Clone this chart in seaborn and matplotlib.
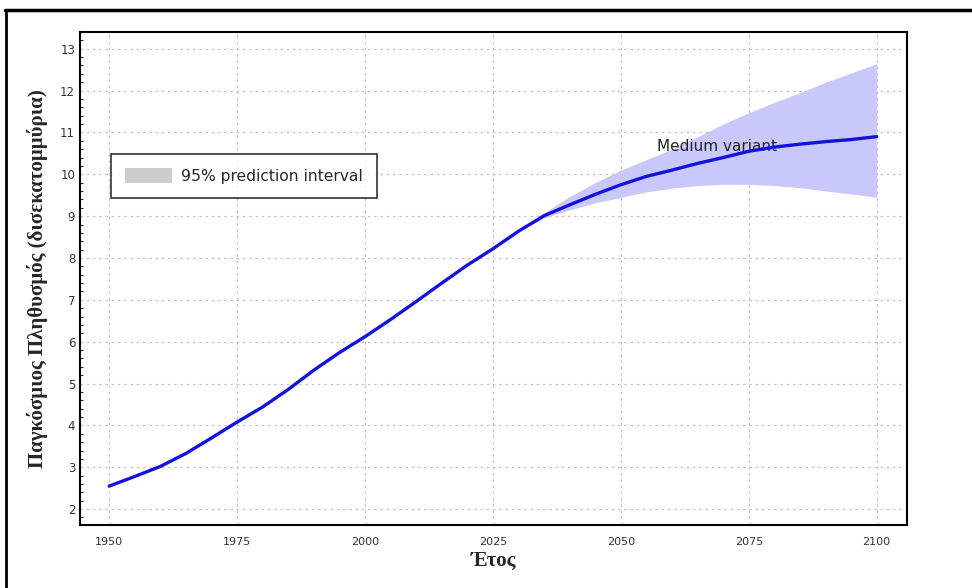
import numpy as np
import pandas as pd
import seaborn as sns
import matplotlib.pyplot as plt
from matplotlib.patches import Patch
from matplotlib.lines import Line2D
from matplotlib.ticker import MultipleLocator

# median projection (billions)
years = [1950, 1955, 1960, 1965, 1970, 1975, 1980, 1985, 1990, 1995, 2000,
         2005, 2010, 2015, 2020, 2025, 2030, 2035, 2040, 2045, 2050,
         2055, 2060, 2065, 2070, 2075, 2080, 2085, 2090, 2095, 2100]
median = [2.55, 2.78, 3.02, 3.33, 3.70, 4.08, 4.44, 4.86, 5.32, 5.74, 6.12,
          6.53, 6.96, 7.40, 7.83, 8.22, 8.64, 9.01, 9.27, 9.52, 9.75,
          9.95, 10.10, 10.26, 10.40, 10.55, 10.65, 10.72, 10.78, 10.83, 10.90]

# 95% prediction interval
pi_years = [2030, 2035, 2040, 2045, 2050, 2055, 2060, 2065, 2070, 2075,
            2080, 2085, 2090, 2095, 2100]
pi_upper = [8.64, 9.08, 9.47, 9.80, 10.10, 10.35, 10.60, 10.90, 11.20, 11.47,
            11.72, 11.95, 12.20, 12.42, 12.64]
pi_lower = [8.64, 8.96, 9.15, 9.32, 9.45, 9.58, 9.67, 9.73, 9.76, 9.76,
            9.73, 9.68, 9.60, 9.53, 9.45]

df = pd.DataFrame({"year": years, "pop": median})

sns.set_style("white")
fig = plt.figure(figsize=(9.72, 5.88), dpi=100)
ax = fig.add_axes([0.0823, 0.1071, 0.8507, 0.8385])

ax.fill_between(pi_years, pi_lower, pi_upper, color="#c8c8fa", linewidth=0, zorder=1)
sns.lineplot(data=df, x="year", y="pop", color="#1212dc", linewidth=2.4, ax=ax, zorder=3)

ax.text(2057, 10.55, "Medium variant", fontsize=11, color="#222222", va="baseline", zorder=2)

ax.set_xlim(1944.3, 2105.9)
ax.set_ylim(1.62, 13.4)
ax.set_xticks(range(1950, 2101, 25))
ax.set_yticks(range(2, 14))
ax.yaxis.set_minor_locator(MultipleLocator(0.2))
ax.grid(True, which="major", color="#c4c4c4", linestyle=(0, (2, 3)), linewidth=0.9)
ax.tick_params(axis="x", direction="out", length=5, width=1.2, labelsize=8, labelcolor="#333333")
ax.tick_params(axis="y", which="major", direction="in", length=4, width=1.2, labelsize=8.5,
               labelcolor="#333333")
ax.tick_params(axis="y", which="minor", direction="in", length=2, width=0.8, left=True)
for s in ax.spines.values():
    s.set_color("black")
    s.set_linewidth(1.5)

ax.set_xlabel("Έτος", fontsize=15, fontweight="bold", family="Liberation Serif", labelpad=3)
ax.set_ylabel("Παγκόσμιος Πληθυσμός (δισεκατομμύρια)", fontsize=15, fontweight="bold",
              family="Liberation Serif", labelpad=9)

handle = Patch(facecolor="#cccccc", edgecolor="none")
leg = ax.legend([handle], ["95% prediction interval"], loc="upper left",
                bbox_to_anchor=(0.038, 0.752), fontsize=11.2, frameon=True, fancybox=False,
                handlelength=3.0, handleheight=1.1, handletextpad=0.6,
                borderpad=0.9, borderaxespad=0)
leg.get_frame().set_edgecolor("black")
leg.get_frame().set_linewidth(1.2)

# outer image frame (top and left edges)
fig.add_artist(Line2D([0.005, 1.0], [0.983, 0.983], color="black", linewidth=2.5,
                      transform=fig.transFigure))
fig.add_artist(Line2D([0.006, 0.006], [0.0, 0.983], color="black", linewidth=2.0,
                      transform=fig.transFigure))

fig.savefig("out.png", dpi=100)
